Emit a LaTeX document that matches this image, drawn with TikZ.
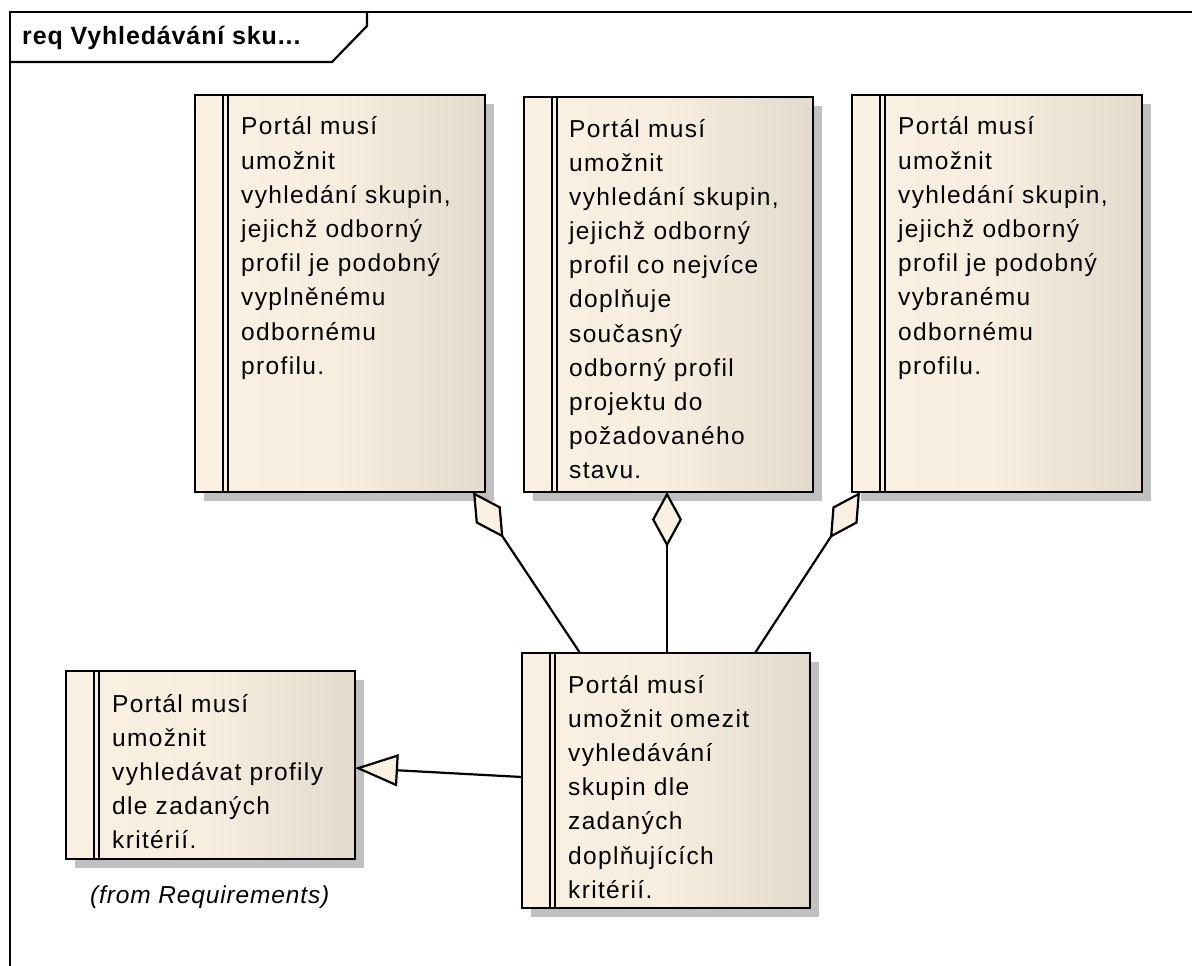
\documentclass[tikz,border=0pt]{standalone}
\usepackage{fontspec}
\setmainfont{Liberation Sans}
\newfontfamily\reqfont[LetterSpace=5.5]{Liberation Sans}
\newfontfamily\notefont[LetterSpace=3.5]{Liberation Sans}
\newfontfamily\tabfont[LetterSpace=3.5]{Liberation Sans}
\usetikzlibrary{arrows.meta,backgrounds}
\definecolor{reqlight}{RGB}{251,241,227}
\definecolor{reqdark}{RGB}{226,218,204}
\definecolor{reqshadow}{RGB}{192,192,192}
\begin{document}
\begin{tikzpicture}[x=1pt,y=-1pt,
  frameline/.style={line width=2.2pt},
  reqbox/.style={draw, line width=2.2pt, anchor=north west, inner sep=0pt, outer sep=0pt,
    left color=reqlight, right color=reqdark, middle color=reqlight!85!reqdark},
  reqtext/.style={anchor=base west, inner sep=0pt, text width=262pt, align=left,
    font=\reqfont\fontsize{24.5}{34.2}\selectfont},
  edge/.style={line width=2.2pt},
  aggr/.style={edge, -{Diamond[length=55pt,width=30pt,fill=reqlight]}},
  gener/.style={edge, -{Triangle[length=43pt,width=32pt,fill=reqlight]}}]
\useasboundingbox (0,0) rectangle (1192,966);

% diagram frame and its name tab
\draw[frameline] (10,966) -- (10,12) -- (1192,12);
\draw[frameline] (10,62) -- (332,62) -- (367,26) -- (367,12);
\node[anchor=base west, inner sep=0pt, font=\tabfont\bfseries\fontsize{25}{28}\selectfont]
  (title) at (22,45) {req Vyhledávání sku...};

% requirement boxes
\node[reqbox, minimum width=290pt, minimum height=397pt] (b1) at (195,95) {};
\node[reqbox, minimum width=289pt, minimum height=395pt] (b2) at (524,97) {};
\node[reqbox, minimum width=290pt, minimum height=397pt] (b3) at (852,95) {};
\node[reqbox, minimum width=288pt, minimum height=255pt] (b4) at (522,653) {};
\node[reqbox, minimum width=289pt, minimum height=188pt] (b5) at (66,671) {};

% shadows and the double stripe of each box
\begin{scope}[on background layer]
\foreach \n in {b1,b2,b3,b4,b5}
  \fill[reqshadow] ([shift={(9,9)}]\n.north west) rectangle ([shift={(9,9)}]\n.south east);
\end{scope}
\foreach \n in {b1,b2,b3,b4,b5} {
  \draw[line width=2pt] ([xshift=28pt]\n.north west) -- ([xshift=28pt]\n.south west);
  \draw[line width=2pt] ([xshift=33pt]\n.north west) -- ([xshift=33pt]\n.south west);
}

% requirement texts
\node[reqtext] (t1) at ([shift={(46,40)}]b1.north west)
  {Portál musí\\umožnit\\vyhledání skupin,\\jejichž odborný\\profil je podobný\\vyplněnému\\odbornému\\profilu.};
\node[reqtext] (t2) at ([shift={(45,40)}]b2.north west)
  {Portál musí\\umožnit\\vyhledání skupin,\\jejichž odborný\\profil co nejvíce\\doplňuje\\současný\\odborný profil\\projektu do\\požadovaného\\stavu.};
\node[reqtext] (t3) at ([shift={(46,40)}]b3.north west)
  {Portál musí\\umožnit\\vyhledání skupin,\\jejichž odborný\\profil je podobný\\vybranému\\odbornému\\profilu.};
\node[reqtext] (t4) at ([shift={(46,40)}]b4.north west)
  {Portál musí\\umožnit omezit\\vyhledávání\\skupin dle\\zadaných\\doplňujících\\kritérií.};
\node[reqtext] (t5) at ([shift={(46,41)}]b5.north west)
  {Portál musí\\umožnit\\vyhledávat profily\\dle zadaných\\kritérií.};
\node[anchor=base west, inner sep=0pt, font=\notefont\itshape\fontsize{24.5}{28}\selectfont]
  (origin) at ([shift={(24,44)}]b5.south west) {(from Requirements)};

% relationships
\draw[aggr] ([xshift=58pt]b4.north west) -- ([xshift=-12pt]b1.south east);
\draw[aggr] ([xshift=145pt]b4.north west) -- ([xshift=143pt]b2.south west);
\draw[aggr] ([xshift=233pt]b4.north west) -- ([xshift=8pt]b3.south west);
\draw[gener] ([yshift=-124pt]b4.north west) -- ([yshift=-97pt]b5.north east);
\end{tikzpicture}
\end{document}
